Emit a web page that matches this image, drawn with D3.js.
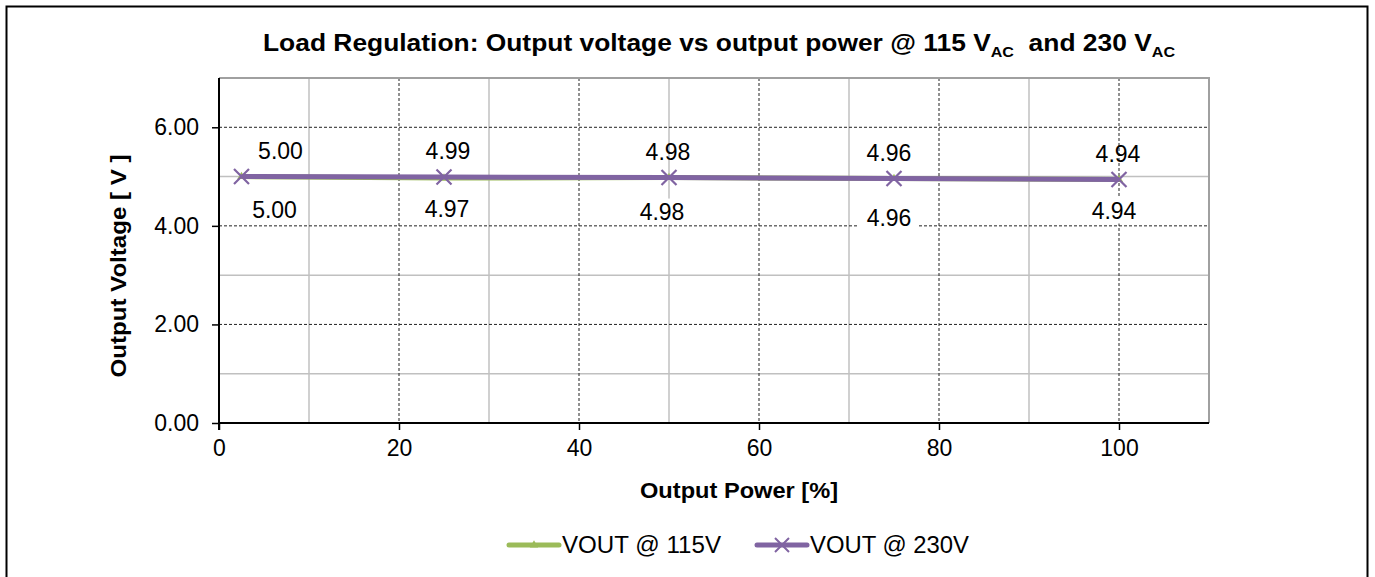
<!DOCTYPE html>
<html>
<head>
<meta charset="utf-8">
<script src="https://cdn.jsdelivr.net/npm/d3@7"></script>
<style>
  body { margin: 0; background: #fff; }
  svg { display: block; font-family: "Liberation Sans", Arial, sans-serif; }
</style>
</head>
<body>
<div id="chart"></div>
<script>
// output power [%]
const power = [2.5, 25, 50, 75, 100];
const vout_115 = [5.00, 4.97, 4.98, 4.96, 4.94];
const vout_230 = [5.00, 4.99, 4.98, 4.96, 4.94];
const series_names = ["VOUT @ 115V", "VOUT @ 230V"];
const x_ticks = [0, 20, 40, 60, 80, 100];
const y_ticks = [0, 2, 4, 6];

const width = 1375;
const height = 577;

const plot_left = 219, plot_right = 1209, plot_top = 78, plot_bottom = 423;

const green = "#9bbb59";
const purple = "#8064a2";
const font_size = 23;

// nudges for the data labels (pixels), like the hand placed ones in the original
const above_dx = [39, 4, -1, -5, -1];
const below_dx = [33, 3, -7, -5, -5];
const below_dy = [33, 31, 34, 39, 31];

const svg = d3.select("#chart").append("svg")
  .attr("width", width)
  .attr("height", height);

// outer frame
svg.append("path")
  .attr("d", `M6.5,${height} V6.5 H1367.5 V${height}`)
  .attr("fill", "none")
  .attr("stroke", "#000")
  .attr("stroke-width", 2);

const x = d3.scaleLinear().domain([0, 110]).range([plot_left, plot_right]);
const y = d3.scaleLinear().domain([0, 7]).range([plot_bottom, plot_top]);

// minor grid (solid gray)
const grid = svg.append("g");
grid.selectAll("line.vminor")
  .data(d3.range(10, 110, 20))
  .enter().append("line")
  .attr("x1", (d) => x(d)).attr("x2", (d) => x(d))
  .attr("y1", plot_top).attr("y2", plot_bottom)
  .attr("stroke", "#c0c0c0").attr("stroke-width", 1.5);
grid.selectAll("line.hminor")
  .data(d3.range(1, 8, 2))
  .enter().append("line")
  .attr("x1", plot_left).attr("x2", plot_right)
  .attr("y1", (d) => y(d)).attr("y2", (d) => y(d))
  .attr("stroke", "#c0c0c0").attr("stroke-width", 1.5);

// major grid (dashed dark)
grid.selectAll("line.vmajor")
  .data(x_ticks.slice(1))
  .enter().append("line")
  .attr("x1", (d) => x(d)).attr("x2", (d) => x(d))
  .attr("y1", plot_top).attr("y2", plot_bottom)
  .attr("stroke", "#222").attr("stroke-width", 1)
  .attr("stroke-dasharray", "3,2");
grid.selectAll("line.hmajor")
  .data(y_ticks.slice(1))
  .enter().append("line")
  .attr("x1", plot_left).attr("x2", plot_right)
  .attr("y1", (d) => y(d)).attr("y2", (d) => y(d))
  .attr("stroke", "#222").attr("stroke-width", 1)
  .attr("stroke-dasharray", "3,2");

// plot area border top/right (gray)
svg.append("path")
  .attr("d", `M${plot_left},${plot_top} H${plot_right} V${plot_bottom}`)
  .attr("fill", "none")
  .attr("stroke", "#a0a0a0")
  .attr("stroke-width", 2);

// axes
const xAxis = svg.append("g")
  .attr("transform", `translate(0,${plot_bottom})`)
  .call(d3.axisBottom(x).tickValues(x_ticks).tickSize(7).tickPadding(12));
xAxis.select(".domain").remove();
xAxis.append("line").attr("x1", plot_left).attr("x2", plot_right).attr("stroke", "#000").attr("stroke-width", 2);

const yAxis = svg.append("g")
  .attr("transform", `translate(${plot_left},0)`)
  .call(d3.axisLeft(y).tickValues(y_ticks).tickFormat(d3.format(".2f")).tickSize(7).tickPadding(13));
yAxis.select(".domain").remove();
yAxis.append("line").attr("y1", plot_top).attr("y2", plot_bottom + 7).attr("stroke", "#000").attr("stroke-width", 2);

svg.selectAll(".tick text")
  .attr("font-size", font_size)
  .attr("fill", "#000")
  .attr("font-family", "Liberation Sans, Arial, sans-serif");
xAxis.selectAll(".tick text").attr("dy", "0.6em");
svg.selectAll(".tick line").attr("stroke", "#000").attr("stroke-width", 1.5);

// lines
const line = d3.line()
  .x((d) => x(d[0]))
  .y((d) => y(d[1]));

const data_115 = power.map((p, i) => [p, vout_115[i]]);
const data_230 = power.map((p, i) => [p, vout_230[i]]);

svg.append("path")
  .datum(data_115)
  .attr("d", line)
  .attr("fill", "none")
  .attr("stroke", green)
  .attr("stroke-width", 5);

svg.selectAll("path.m115")
  .data(data_115)
  .enter().append("path")
  .attr("transform", (d) => `translate(${x(d[0])},${y(d[1])})`)
  .attr("d", d3.symbol(d3.symbolTriangle, 30))
  .attr("fill", green);

svg.append("path")
  .datum(data_230)
  .attr("d", line)
  .attr("fill", "none")
  .attr("stroke", purple)
  .attr("stroke-width", 5);

svg.selectAll("path.m230")
  .data(data_230)
  .enter().append("path")
  .attr("transform", (d) => `translate(${x(d[0])},${y(d[1])})`)
  .attr("d", "M-7.5,-7.5L7.5,7.5M-7.5,7.5L7.5,-7.5")
  .attr("stroke", purple)
  .attr("stroke-width", 2.2);

// data labels
const fmt = d3.format(".2f");
// 230V above, 115V below
const lab_above = svg.append("g");
lab_above.selectAll("text")
  .data(data_230)
  .enter().append("text")
  .attr("x", (d, i) => x(d[0]) + above_dx[i])
  .attr("y", (d) => y(d[1]) - 26)
  .attr("dy", "0.35em")
  .attr("text-anchor", "middle")
  .attr("font-size", font_size)
  .text((d) => fmt(d[1]));

const lab_below = svg.append("g");
lab_below.selectAll("g")
  .data(data_115)
  .enter().append("g")
  .attr("transform", (d, i) => `translate(${x(d[0]) + below_dx[i]},${y(d[1]) + below_dy[i]})`)
  .each(function (d) {
    const g = d3.select(this);
    g.append("rect")
      .attr("x", -30).attr("y", -13).attr("width", 60).attr("height", 26)
      .attr("fill", "#fff");
    g.append("text")
      .attr("dy", "0.35em")
      .attr("text-anchor", "middle")
      .attr("font-size", font_size)
      .text(fmt(d[1]));
  });

// title
const title = svg.append("text")
  .attr("x", 719)
  .attr("y", 51)
  .attr("text-anchor", "middle")
  .attr("font-size", 23)
  .attr("font-weight", "bold")
  .attr("textLength", 912)
  .attr("lengthAdjust", "spacingAndGlyphs");
title.append("tspan").text("Load Regulation: Output voltage vs output power @ 115 V");
title.append("tspan").attr("font-size", 14).attr("dy", 6).text("AC");
title.append("tspan").attr("dy", -6).text("\u00a0 and 230 V");
title.append("tspan").attr("font-size", 14).attr("dy", 6).text("AC");

// axis titles
svg.append("text")
  .attr("x", 739)
  .attr("y", 498)
  .attr("text-anchor", "middle")
  .attr("font-size", 22)
  .attr("font-weight", "bold")
  .attr("textLength", 198)
  .attr("lengthAdjust", "spacingAndGlyphs")
  .text("Output Power [%]");

svg.append("text")
  .attr("transform", `translate(126,266) rotate(-90)`)
  .attr("text-anchor", "middle")
  .attr("font-size", 22)
  .attr("font-weight", "bold")
  .attr("textLength", 223)
  .attr("lengthAdjust", "spacingAndGlyphs")
  .text("Output Voltage [ V ]");

// legend
const legend = svg.append("g").attr("transform", "translate(0,545)");
const legend_items = [
  { name: series_names[0], color: green, x0: 509 },
  { name: series_names[1], color: purple, x0: 757 }
];
legend_items.forEach((d, i) => {
  legend.append("line")
    .attr("x1", d.x0).attr("x2", d.x0 + 50)
    .attr("stroke", d.color).attr("stroke-width", 5)
    .attr("stroke-linecap", "round");
  if (i === 0) {
    legend.append("path")
      .attr("transform", `translate(${d.x0 + 25},0)`)
      .attr("d", d3.symbol(d3.symbolTriangle, 30))
      .attr("fill", d.color);
  } else {
    legend.append("path")
      .attr("transform", `translate(${d.x0 + 25},0)`)
      .attr("d", "M-7,-7L7,7M-7,7L7,-7")
      .attr("stroke", d.color).attr("stroke-width", 2);
  }
  legend.append("text")
    .attr("x", d.x0 + 53)
    .attr("dy", "0.35em")
    .attr("font-size", font_size)
    .attr("textLength", 159)
    .attr("lengthAdjust", "spacingAndGlyphs")
    .text(d.name);
});
</script>
</body>
</html>
